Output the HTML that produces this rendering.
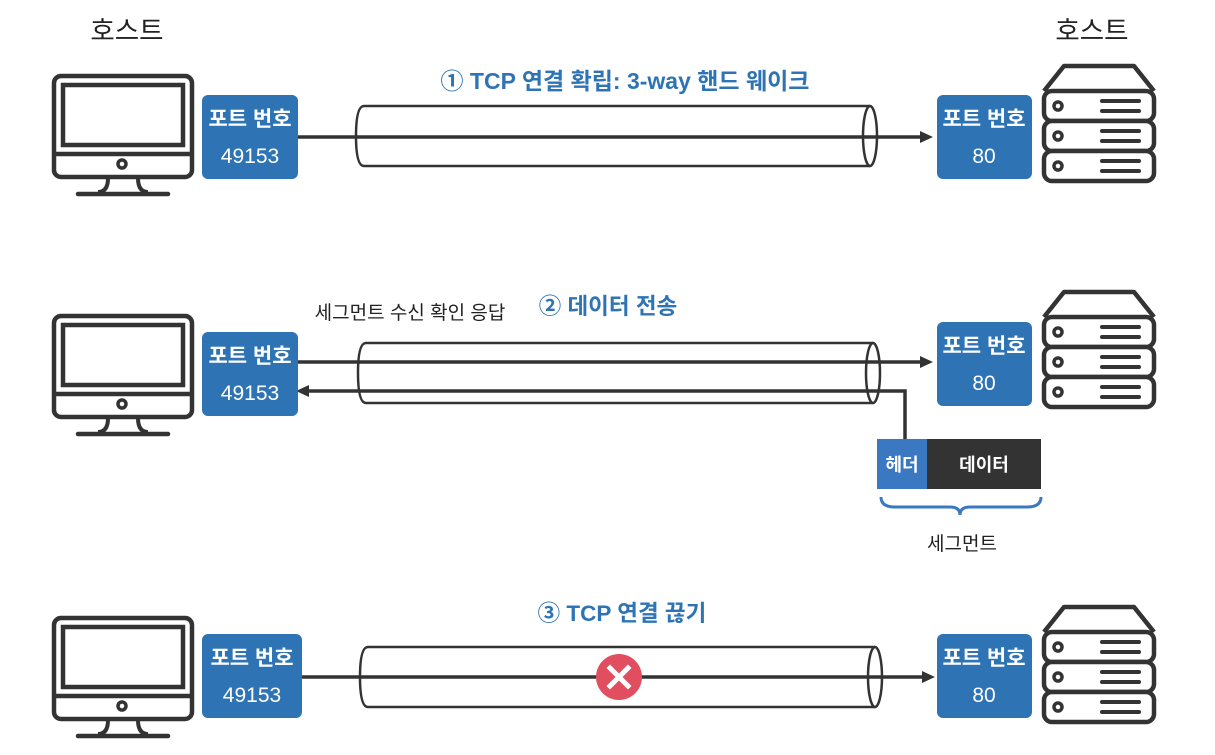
<!DOCTYPE html>
<html><head><meta charset="utf-8">
<style>
html,body{margin:0;padding:0;background:#fff;}
svg{display:block;}
text{font-family:"Liberation Sans","Noto Sans CJK KR",sans-serif;}
</style></head>
<body>
<svg width="1215" height="755" viewBox="0 0 1215 755">
<defs>
<g id="monitor">
<rect x="2" y="2" width="138" height="101" rx="7" fill="none" stroke="#333" stroke-width="4.5"/>
<rect x="11" y="11" width="120" height="60" fill="none" stroke="#333" stroke-width="4.5"/>
<line x1="2" y1="80" x2="140" y2="80" stroke="#333" stroke-width="4.5"/>
<circle cx="70" cy="90" r="4" fill="none" stroke="#333" stroke-width="3.5"/>
<path d="M56 104 Q56 118 46 118 M86 104 Q86 118 96 118" fill="none" stroke="#333" stroke-width="4"/>
<line x1="26" y1="120" x2="116" y2="120" stroke="#333" stroke-width="4.5" stroke-linecap="round"/>
</g>
<g id="server">
<path d="M2 27 L22 2 L92 2 L112 27" fill="none" stroke="#333" stroke-width="4.5" stroke-linejoin="round"/>
<rect x="2" y="27" width="110" height="30" rx="8" fill="#fff" stroke="#333" stroke-width="4.5"/>
<rect x="2" y="57" width="110" height="30" rx="8" fill="#fff" stroke="#333" stroke-width="4.5"/>
<rect x="2" y="87" width="110" height="30" rx="8" fill="#fff" stroke="#333" stroke-width="4.5"/>
<g fill="none" stroke="#333" stroke-width="3.5"><circle cx="16" cy="42" r="4"/><circle cx="16" cy="72" r="4"/><circle cx="16" cy="102" r="4"/></g>
<g stroke="#333" stroke-width="4" stroke-linecap="round"><line x1="60" y1="37" x2="97" y2="37"/><line x1="60" y1="47" x2="97" y2="47"/><line x1="60" y1="67" x2="97" y2="67"/><line x1="60" y1="77" x2="97" y2="77"/><line x1="60" y1="97" x2="97" y2="97"/><line x1="60" y1="107" x2="97" y2="107"/></g>
</g>
</defs>

<text x="127" y="40" font-size="26.5" text-anchor="middle" fill="#222">호스트</text>
<text x="1092" y="40" font-size="26.5" text-anchor="middle" fill="#222">호스트</text>

<!-- Row 1 -->
<g>
<use href="#monitor" x="52" y="74"/>
<use href="#server" x="1042" y="64"/>
<text x="625" y="89" font-size="23" font-weight="bold" text-anchor="middle" fill="#2e74b5">① TCP 연결 확립: 3-way 핸드 웨이크</text>
<path d="M364 106 L870 106 M364 166 L870 166 M364 106 Q356 106 356 136 Q356 166 364 166" fill="none" stroke="#333" stroke-width="2.5"/>
<ellipse cx="870" cy="136" rx="7" ry="30" fill="none" stroke="#333" stroke-width="2.5"/>
<line x1="298" y1="137" x2="922" y2="137" stroke="#333" stroke-width="3.5"/>
<polygon points="933,137 920,131 920,143" fill="#333"/>
<rect x="202" y="95" width="96" height="84" rx="6" fill="#2e74b5"/>
<text x="250" y="126" font-size="21" font-weight="bold" text-anchor="middle" fill="#fff">포트 번호</text>
<text x="250" y="163" font-size="21" text-anchor="middle" fill="#fff">49153</text>
<rect x="937" y="95" width="95" height="84" rx="6" fill="#2e74b5"/>
<text x="984" y="126" font-size="21" font-weight="bold" text-anchor="middle" fill="#fff">포트 번호</text>
<text x="984" y="163" font-size="21" text-anchor="middle" fill="#fff">80</text>
</g>

<!-- Row 2 -->
<g>
<use href="#monitor" x="52" y="314"/>
<use href="#server" x="1042" y="290"/>
<text x="410" y="319" font-size="19" text-anchor="middle" fill="#222">세그먼트 수신 확인 응답</text>
<text x="608" y="314" font-size="22.5" font-weight="bold" text-anchor="middle" fill="#2e74b5">② 데이터 전송</text>
<path d="M366 343 L873 343 M366 403 L873 403 M366 343 Q358 343 358 373 Q358 403 366 403" fill="none" stroke="#333" stroke-width="2.5"/>
<ellipse cx="873" cy="373" rx="7" ry="30" fill="none" stroke="#333" stroke-width="2.5"/>
<line x1="298" y1="362" x2="922" y2="362" stroke="#333" stroke-width="3.5"/>
<polygon points="933,362 920,356 920,368" fill="#333"/>
<polyline points="905,440 905,391 306,391" fill="none" stroke="#333" stroke-width="3.5"/>
<polygon points="296,391 309,385 309,397" fill="#333"/>
<rect x="202" y="332" width="96" height="84" rx="6" fill="#2e74b5"/>
<text x="250" y="363" font-size="21" font-weight="bold" text-anchor="middle" fill="#fff">포트 번호</text>
<text x="250" y="400" font-size="21" text-anchor="middle" fill="#fff">49153</text>
<rect x="937" y="322" width="95" height="84" rx="6" fill="#2e74b5"/>
<text x="984" y="353" font-size="21" font-weight="bold" text-anchor="middle" fill="#fff">포트 번호</text>
<text x="984" y="390" font-size="21" text-anchor="middle" fill="#fff">80</text>
<rect x="877" y="439" width="50" height="50" fill="#3a78c2"/>
<text x="902" y="471" font-size="18" font-weight="bold" text-anchor="middle" fill="#fff">헤더</text>
<rect x="927" y="439" width="114" height="50" fill="#333"/>
<text x="984" y="471" font-size="18" font-weight="bold" text-anchor="middle" fill="#fff">데이터</text>
<path d="M881 497 Q881 507 895 507 L950 507 Q960 507 960 515 Q960 507 970 507 L1027 507 Q1041 507 1041 497" fill="none" stroke="#3a78c2" stroke-width="3"/>
<text x="962" y="550" font-size="19" text-anchor="middle" fill="#222">세그먼트</text>
</g>

<!-- Row 3 -->
<g>
<use href="#monitor" x="52" y="616"/>
<use href="#server" x="1042" y="605"/>
<text x="622" y="621" font-size="22.5" font-weight="bold" text-anchor="middle" fill="#2e74b5">③ TCP 연결 끊기</text>
<path d="M368 647 L875 647 M368 707 L875 707 M368 647 Q360 647 360 677 Q360 707 368 707" fill="none" stroke="#333" stroke-width="2.5"/>
<ellipse cx="875" cy="677" rx="7" ry="30" fill="none" stroke="#333" stroke-width="2.5"/>
<line x1="302" y1="677" x2="924" y2="677" stroke="#333" stroke-width="3.5"/>
<polygon points="935,677 922,671 922,683" fill="#333"/>
<circle cx="619" cy="677" r="23" fill="#e04e5f"/>
<path d="M610 668 L628 686 M628 668 L610 686" stroke="#fff" stroke-width="5" stroke-linecap="square"/>
<rect x="202" y="634" width="100" height="84" rx="6" fill="#2e74b5"/>
<text x="252" y="665" font-size="21" font-weight="bold" text-anchor="middle" fill="#fff">포트 번호</text>
<text x="252" y="702" font-size="21" text-anchor="middle" fill="#fff">49153</text>
<rect x="937" y="634" width="95" height="84" rx="6" fill="#2e74b5"/>
<text x="984" y="665" font-size="21" font-weight="bold" text-anchor="middle" fill="#fff">포트 번호</text>
<text x="984" y="702" font-size="21" text-anchor="middle" fill="#fff">80</text>
</g>
</svg>
</body></html>
